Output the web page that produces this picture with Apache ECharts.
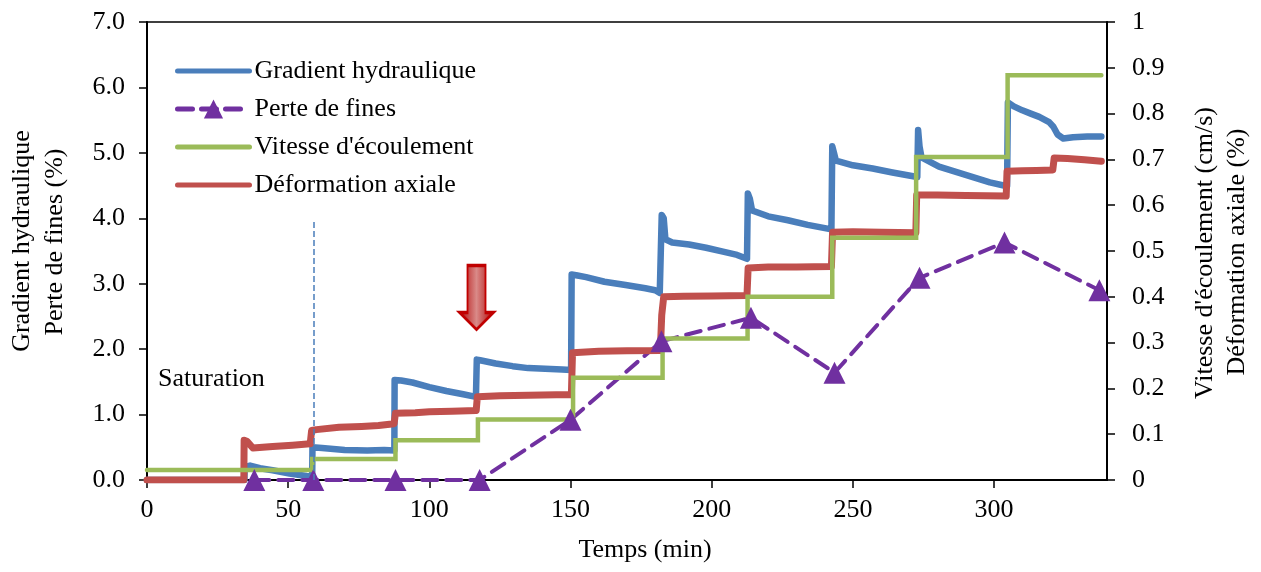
<!DOCTYPE html>
<html><head><meta charset="utf-8">
<script src="https://cdn.jsdelivr.net/npm/echarts@6/dist/echarts.min.js"></script>
<style>html,body{margin:0;padding:0;background:#fff}#c{width:1261px;height:572px}</style>
</head><body><div id="c"></div>
<script>
// ---- data ----
const xTickValues = [0, 50, 100, 150, 200, 250, 300];
const seriesNames = ['Gradient hydraulique', 'Perte de fines', "Vitesse d'écoulement", 'Déformation axiale'];

// Gradient hydraulique (left axis) : [temps, gradient]
const gradient = [
  [0,0],[34.5,0],[34.6,0.2],[36.5,0.22],[40,0.18],[44.5,0.15],[50.5,0.1],[56.5,0.06],[58.5,0.05],
  [58.6,0.5],[62,0.49],[70,0.46],[78,0.45],[84,0.46],[87.6,0.45],
  [87.7,1.53],[90,1.52],[94,1.49],[100,1.42],[106,1.36],[112,1.31],[116.5,1.27],
  [116.8,1.84],[118,1.83],[123.5,1.78],[129.5,1.74],[135,1.71],[141,1.70],[147,1.69],[150.2,1.68],
  [150.4,3.14],[152,3.13],[155.5,3.10],[162,3.03],[169.5,2.98],[176.5,2.93],[180,2.90],[181.6,2.86],
  [182.3,4.05],[183,4.0],[183.6,3.68],[186,3.63],[192,3.60],[198,3.55],[204,3.49],[209,3.44],[212.5,3.38],
  [212.8,4.38],[213.5,4.3],[214.3,4.12],[220,4.03],[227,3.97],[234,3.9],[242.4,3.83],
  [242.7,5.1],[243.3,5.0],[244,4.88],[250,4.81],[257,4.76],[264,4.70],[272.8,4.63],
  [273.1,5.35],[273.6,5.1],[274.3,4.93],[280.5,4.79],[286.5,4.71],[292.5,4.63],[298.5,4.55],[304.6,4.49],
  [304.9,5.77],[307,5.71],[310,5.65],[313,5.60],[316,5.55],[319.5,5.47],[321,5.40],[322.5,5.28],[324.5,5.22],[328,5.24],[333,5.25],[338,5.25]
];

// Perte de fines (left axis) : [temps, %]
const perteFines = [
  [38,0],[58.9,0],[88,0],[117.8,0],[150,0.92],[182.2,2.12],[213.9,2.48],[243.5,1.64],[273.6,3.09],[303.7,3.63],[337.3,2.90]
];

// Vitesse d'écoulement (right axis), steps : [temps, cm/s]
const vitesse = [
  [0,0.022],[58.5,0.046],[88,0.087],[117.2,0.132],[150.9,0.223],[182.6,0.309],[212.7,0.40],[242.7,0.529],[272.4,0.705],[304.8,0.884],[338,0.884]
];

// Déformation axiale (right axis) : [temps, %]
const deformation = [
  [0,0],[34.3,0],[34.4,0.087],[35.5,0.084],[37.5,0.07],[44.5,0.073],[51.5,0.076],[57.8,0.079],
  [58.3,0.108],[60,0.110],[68,0.115],[76,0.117],[82,0.119],[87.5,0.123],
  [88,0.146],[95,0.147],[100,0.149],[108,0.150],[116.6,0.152],
  [117,0.182],[125,0.184],[135,0.185],[145,0.186],[150.3,0.186],
  [150.7,0.278],[160,0.281],[170,0.282],[181.8,0.283],
  [182.3,0.36],[183,0.40],[190,0.401],[200,0.402],[212.5,0.403],
  [212.9,0.463],[220,0.465],[230,0.465],[242.4,0.466],
  [242.8,0.541],[250,0.542],[260,0.541],[272.3,0.540],
  [272.6,0.622],[280,0.622],[290,0.621],[304.3,0.62],
  [304.6,0.674],[310,0.675],[315,0.676],[320.8,0.677],[321.3,0.703],[326,0.702],[332,0.699],[338,0.696]
];

// annotations
const saturationTime = 59, saturationTop = 3.97;
const arrowPoint = [116.7, 2.79];

// ---- chart ----
const FONT = 'Liberation Serif';
const C_BLUE = '#4A7EBB', C_PURPLE = '#7030A0', C_GREEN = '#9BBB59', C_RED = '#C0504D';
const chart = echarts.init(document.getElementById('c'), null, {renderer: 'canvas'});
const baseText = {fontFamily: FONT, fontSize: 26, color: '#000'};
const hideSym = {opacity: 0};

chart.setOption({
  animation: false,
  backgroundColor: '#fff',
  grid: {left: 147, right: 154, top: 22, bottom: 92, show: true, borderColor: '#000', borderWidth: 1.5},
  legend: {
    data: [
      {name: seriesNames[0], itemStyle: hideSym},
      {name: seriesNames[1]},
      {name: seriesNames[2], itemStyle: hideSym},
      {name: seriesNames[3], itemStyle: hideSym}
    ],
    orient: 'vertical', left: 175, top: 58, padding: 0,
    itemWidth: 72, itemHeight: 24, itemGap: 12, selectedMode: false,
    textStyle: baseText, lineStyle: {width: 5}
  },
  xAxis: {
    type: 'value', min: 0, max: 340, interval: 50,
    axisLine: {lineStyle: {color: '#000', width: 2}},
    axisTick: {show: true, length: 8, lineStyle: {color: '#000', width: 1.5}, customValues: xTickValues},
    axisLabel: Object.assign({margin: 17, customValues: xTickValues,
      formatter: v => (v === 340 ? '' : String(v))}, baseText),
    splitLine: {show: false}
  },
  yAxis: [
    {
      type: 'value', min: 0, max: 7, interval: 1, position: 'left',
      axisLine: {show: true, lineStyle: {color: '#000', width: 2}},
      axisTick: {show: true, length: 8, lineStyle: {color: '#000', width: 1.5}},
      axisLabel: Object.assign({margin: 22, formatter: v => v.toFixed(1)}, baseText),
      splitLine: {show: false}
    },
    {
      type: 'value', min: 0, max: 1, interval: 0.1, position: 'right',
      axisLine: {show: true, lineStyle: {color: '#000', width: 2}},
      axisTick: {show: true, length: 8, lineStyle: {color: '#000', width: 1.5}},
      axisLabel: Object.assign({margin: 25, formatter: v => String(Math.round(v * 10) / 10)}, baseText),
      splitLine: {show: false}
    }
  ],
  series: [
    {
      name: seriesNames[0], type: 'line', yAxisIndex: 0, data: gradient,
      showSymbol: false, symbol: 'none', color: C_BLUE,
      lineStyle: {color: C_BLUE, width: 6.5, cap: 'round', join: 'round'},
      markLine: {
        silent: true, symbol: 'none', label: {show: false},
        lineStyle: {color: C_BLUE, width: 1.5, type: [6, 3]},
        data: [[{coord: [saturationTime, 0]}, {coord: [saturationTime, saturationTop]}]]
      },
      markPoint: {
        silent: true, label: {show: false},
        symbol: 'path://M8,0 L26,0 L26,47 L34,47 L17,64 L0,47 L8,47 Z',
        symbolSize: [34, 64],
        itemStyle: {
          color: {type: 'linear', x: 0, y: 0, x2: 1, y2: 0, colorStops: [
            {offset: 0, color: '#B00000'}, {offset: 0.5, color: '#D98A88'}, {offset: 1, color: '#B00000'}]},
          borderColor: '#C00000', borderWidth: 2.5
        },
        data: [{coord: arrowPoint}]
      }
    },
    {
      name: seriesNames[1], type: 'line', yAxisIndex: 0, data: perteFines, clip: false,
      symbol: 'triangle', symbolSize: 22, showSymbol: true, color: C_PURPLE,
      itemStyle: {color: C_PURPLE},
      lineStyle: {color: C_PURPLE, width: 4, type: [15, 9], cap: 'round'}
    },
    {
      name: seriesNames[3], type: 'line', yAxisIndex: 1, data: deformation,
      showSymbol: false, symbol: 'none', color: C_RED,
      lineStyle: {color: C_RED, width: 7, cap: 'round', join: 'round'}
    },
    {
      name: seriesNames[2], type: 'line', yAxisIndex: 1, data: vitesse, step: 'end',
      showSymbol: false, symbol: 'none', color: C_GREEN,
      lineStyle: {color: C_GREEN, width: 4.5, cap: 'round', join: 'miter'}
    }
  ],
  graphic: [
    {type: 'text', left: 158, top: 366, style: {text: 'Saturation', fill: '#000', font: '26px "Liberation Serif"'}},
    {type: 'text', x: 22, y: 241, rotation: Math.PI / 2,
      style: {text: 'Gradient hydraulique', font: '26px "Liberation Serif"', fill: '#000', align: 'center', verticalAlign: 'middle'}},
    {type: 'text', x: 55, y: 242, rotation: Math.PI / 2,
      style: {text: 'Perte de fines (%)', font: '26px "Liberation Serif"', fill: '#000', align: 'center', verticalAlign: 'middle'}},
    {type: 'text', x: 1205, y: 253, rotation: Math.PI / 2,
      style: {text: "Vitesse d'écoulement (cm/s)", font: '26px "Liberation Serif"', fill: '#000', align: 'center', verticalAlign: 'middle'}},
    {type: 'text', x: 1237, y: 252, rotation: Math.PI / 2,
      style: {text: 'Déformation axiale (%)', font: '26px "Liberation Serif"', fill: '#000', align: 'center', verticalAlign: 'middle'}},
    {type: 'text', x: 645, y: 550,
      style: {text: 'Temps (min)', font: '26px "Liberation Serif"', fill: '#000', align: 'center', verticalAlign: 'middle'}}
  ]
});
</script></body></html>
